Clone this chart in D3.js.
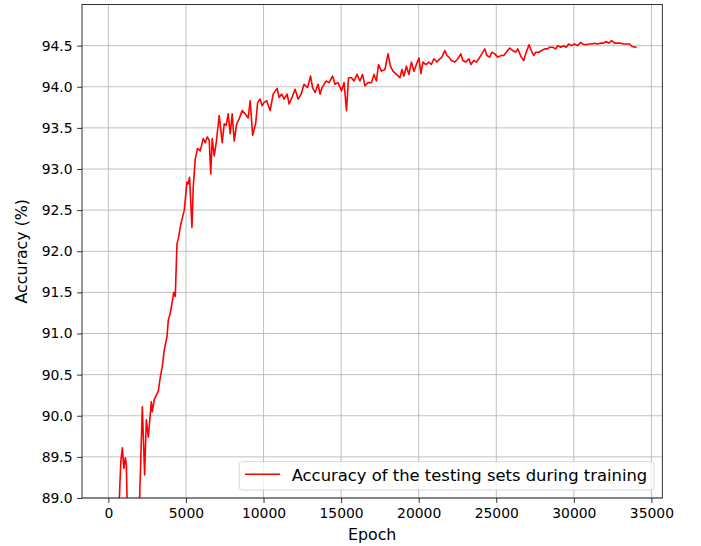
<!DOCTYPE html>
<html>
<head>
<meta charset="utf-8">
<script src="https://cdn.jsdelivr.net/npm/d3@7"></script>
<style>
  html, body { margin: 0; padding: 0; background: #fff; }
  svg { display: block; font-family: "DejaVu Sans", sans-serif; }
</style>
</head>
<body>
<svg id="chart" width="701" height="546"></svg>
<script>
const epochs = [0,515,708,804,901,997,1094,1158,1203,1287,1737,2014,2188,2336,2445,2574,2767,2831,2960,3089,3218,3346,3475,3604,3777,3861,3990,4099,4215,4311,4421,4505,4678,4762,4891,5064,5148,5232,5386,5470,5598,5746,5920,6113,6242,6371,6499,6596,6692,6821,6950,7143,7336,7465,7593,7722,7851,7979,8108,8269,8430,8623,8816,9009,9138,9299,9492,9620,9781,9910,10039,10199,10425,10618,10875,11004,11165,11326,11519,11647,11840,12034,12227,12420,12613,12838,13031,13160,13320,13514,13642,13771,14028,14221,14446,14607,14800,15026,15187,15347,15476,15669,15830,16023,16216,16377,16538,16731,16956,17117,17278,17407,17600,17825,18018,18179,18340,18565,18790,18919,19048,19209,19369,19530,19691,19852,20013,20142,20270,20463,20656,20817,20978,21171,21364,21493,21686,21815,21943,22104,22329,22522,22716,22844,23037,23230,23359,23552,23713,23874,24067,24260,24389,24582,24710,24903,25097,25322,25483,25644,25869,26062,26255,26384,26609,26770,26931,27111,27253,27413,27542,27735,27928,28121,28282,28443,28636,28829,28958,29151,29344,29505,29666,29859,30052,30245,30438,30566,30759,30952,31145,31338,31532,31725,31918,32079,32240,32433,32626,32819,33012,33205,33398,33591,33752,34000];
const accuracy = [86.0,87.5,89.0,89.45,89.61,89.36,89.49,89.40,89.0,87.5,87.3,89.0,90.11,89.28,89.95,89.74,90.17,90.05,90.20,90.25,90.30,90.47,90.60,90.80,90.96,91.16,91.25,91.37,91.50,91.45,92.09,92.15,92.34,92.40,92.50,92.84,92.82,92.90,92.29,92.78,93.12,93.25,93.22,93.37,93.32,93.39,93.35,92.94,93.37,93.16,93.32,93.65,93.32,93.55,93.53,93.67,93.43,93.67,93.34,93.55,93.61,93.71,93.67,93.62,93.83,93.41,93.55,93.81,93.85,93.77,93.81,93.83,93.71,93.91,93.98,93.87,93.91,93.85,93.91,93.79,93.87,93.97,93.85,93.91,94.03,93.99,94.13,93.99,93.93,94.03,93.91,93.99,94.07,94.05,94.13,94.03,94.05,93.95,94.05,93.71,94.11,94.11,94.07,94.15,94.07,94.15,94.01,94.05,94.05,94.15,94.07,94.27,94.19,94.21,94.40,94.25,94.19,94.15,94.11,94.21,94.13,94.25,94.15,94.30,94.19,94.27,94.35,94.16,94.30,94.27,94.30,94.27,94.34,94.30,94.34,94.36,94.44,94.38,94.36,94.32,94.30,94.34,94.40,94.32,94.30,94.34,94.27,94.32,94.30,94.34,94.40,94.46,94.38,94.36,94.42,94.40,94.36,94.38,94.38,94.42,94.47,94.44,94.42,94.46,94.36,94.32,94.42,94.51,94.44,94.38,94.42,94.42,94.44,94.46,94.46,94.48,94.48,94.46,94.50,94.48,94.50,94.48,94.52,94.50,94.52,94.50,94.54,94.52,94.51,94.52,94.52,94.53,94.52,94.53,94.53,94.55,94.53,94.56,94.53,94.53,94.53,94.52,94.52,94.52,94.49,94.48];
const xTicks = [0,5000,10000,15000,20000,25000,30000,35000];
const yTicks = [89.0,89.5,90.0,90.5,91.0,91.5,92.0,92.5,93.0,93.5,94.0,94.5];
const xLabel = "Epoch";
const yLabel = "Accuracy (%)";
const legendLabel = "Accuracy of the testing sets during training";

const svg = d3.select("#chart");
const m = {left: 82, top: 4.5, right: 662.3, bottom: 498};
const W = m.right - m.left, H = m.bottom - m.top;
const x = d3.scaleLinear().domain([-1700, 35700]).range([m.left, m.right]);
const y = d3.scaleLinear().domain([89, 95]).range([m.bottom, m.top]);

svg.append("defs").append("clipPath").attr("id", "clip")
  .append("rect").attr("x", m.left).attr("y", m.top).attr("width", W).attr("height", H);

// grid
const grid = svg.append("g");
grid.selectAll(".gx").data(xTicks).enter().append("line")
  .attr("x1", d => x(d)).attr("x2", d => x(d)).attr("y1", m.top).attr("y2", m.bottom)
  .attr("stroke", "#b0b0b0").attr("stroke-width", 0.8);
grid.selectAll(".gy").data(yTicks).enter().append("line")
  .attr("y1", d => y(d)).attr("y2", d => y(d)).attr("x1", m.left).attr("x2", m.right)
  .attr("stroke", "#b0b0b0").attr("stroke-width", 0.8);

// line
const data = epochs.map((e, i) => [e, accuracy[i]]);
svg.append("path").datum(data)
  .attr("clip-path", "url(#clip)")
  .attr("fill", "none").attr("stroke", "#ff0000").attr("stroke-width", 1.6)
  .attr("stroke-linejoin", "round").attr("stroke-linecap", "square")
  .attr("d", d3.line().x(d => x(d[0])).y(d => y(d[1])));

// axes
const xAxis = svg.append("g").attr("transform", `translate(0,${m.bottom})`)
  .call(d3.axisBottom(x).tickValues(xTicks).tickFormat(d3.format("d")).tickSize(4.9).tickPadding(5.5));
const yAxis = svg.append("g").attr("transform", `translate(${m.left},0)`)
  .call(d3.axisLeft(y).tickValues(yTicks).tickFormat(d3.format(".1f")).tickSize(4.9).tickPadding(4.5));
[xAxis, yAxis].forEach(a => {
  a.select(".domain").remove();
  a.selectAll("line").attr("stroke", "#000").attr("stroke-width", 0.8);
  a.selectAll("text").attr("font-size", "13.9px").attr("fill", "#000")
    .attr("font-family", "DejaVu Sans, sans-serif");
});

// spines
svg.append("rect").attr("x", m.left).attr("y", m.top).attr("width", W).attr("height", H)
  .attr("fill", "none").attr("stroke", "#000").attr("stroke-width", 0.8);

// labels
svg.append("text").attr("x", (m.left + m.right) / 2).attr("y", 540)
  .attr("text-anchor", "middle").attr("font-size", "15.8px").text(xLabel);
svg.append("text").attr("transform", `translate(27,${(m.top + m.bottom) / 2}) rotate(-90)`)
  .attr("text-anchor", "middle").attr("font-size", "15.8px").text(yLabel);

// legend
const lg = svg.append("g");
lg.append("rect").attr("x", 239.3).attr("y", 461.7).attr("width", 414.7).attr("height", 28.3)
  .attr("rx", 3).attr("fill", "#fff").attr("fill-opacity", 0.8)
  .attr("stroke", "#cccccc").attr("stroke-width", 0.8);
lg.append("line").attr("x1", 245).attr("x2", 280).attr("y1", 474.3).attr("y2", 474.3)
  .attr("stroke", "#ff0000").attr("stroke-width", 1.6);
lg.append("text").attr("x", 291.7).attr("y", 480.5).attr("font-size", "16.4px").text(legendLabel);
</script>
</body>
</html>
